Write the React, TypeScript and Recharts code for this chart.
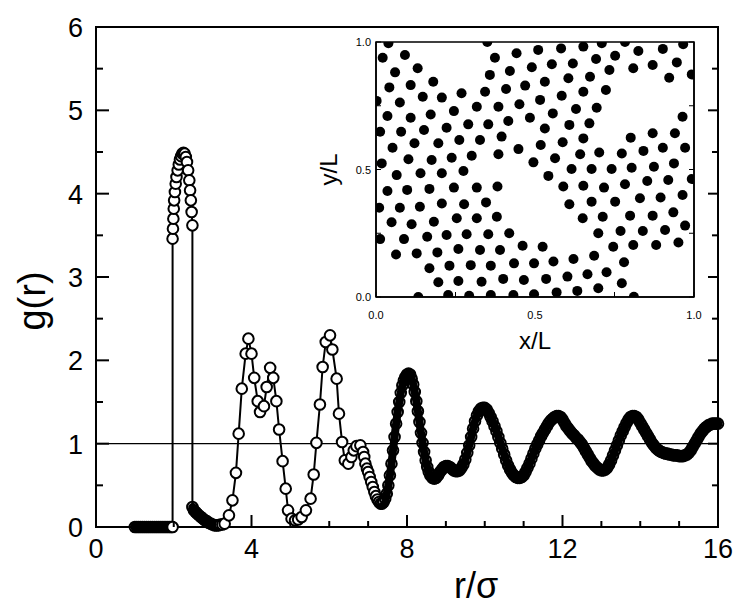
import React from "react";
import {
  ComposedChart,
  Line,
  XAxis,
  YAxis,
  ReferenceLine,
  ReferenceArea,
  ScatterChart,
  Scatter,
} from "recharts";

const FONT = "'Liberation Sans', Arial, Helvetica, sans-serif";

// g(r): hard core, no particles closer than contact
const rCore = [1.0, 1.05, 1.1, 1.15, 1.2, 1.25, 1.3, 1.35, 1.4, 1.45, 1.5, 1.55, 1.6, 1.65, 1.7, 1.75, 1.8, 1.85, 1.9, 1.94, 1.97];
const gCore = [0, 0, 0, 0, 0, 0, 0, 0, 0, 0, 0, 0, 0, 0, 0, 0, 0, 0, 0, 0, 0];

// first (contact) peak
const rPeak = [1.97, 1.98, 1.99, 2.0, 2.01, 2.03, 2.05, 2.07, 2.1, 2.13, 2.16, 2.19, 2.22, 2.25, 2.28, 2.31, 2.34, 2.37, 2.4, 2.42, 2.44, 2.46, 2.48];
const gPeak = [3.46, 3.58, 3.7, 3.82, 3.92, 4.02, 4.12, 4.2, 4.28, 4.35, 4.41, 4.45, 4.48, 4.49, 4.48, 4.44, 4.38, 4.28, 4.16, 4.04, 3.92, 3.78, 3.62];

// tail after the peak
const rTail = [2.48, 2.52, 2.56, 2.6, 2.65, 2.7, 2.75, 2.8, 2.85, 2.9, 2.95, 3.0, 3.05, 3.1, 3.15, 3.2, 3.25, 3.31];
const gTail = [0.24, 0.2, 0.18, 0.16, 0.14, 0.12, 0.1, 0.08, 0.07, 0.05, 0.04, 0.03, 0.02, 0.02, 0.02, 0.03, 0.03, 0.04];

// second and third shells (coarse sampling)
const rShell = [3.42, 3.51, 3.6, 3.67, 3.75, 3.85, 3.92, 4.0, 4.07, 4.16, 4.22, 4.32, 4.39, 4.48, 4.56, 4.64, 4.71, 4.8, 4.88, 4.94, 5.03, 5.12, 5.2, 5.29, 5.4, 5.52, 5.6, 5.67, 5.76, 5.83, 5.91, 6.02, 6.08, 6.19, 6.25, 6.33, 6.4, 6.49, 6.57, 6.63, 6.7, 6.8, 6.87];
const gShell = [0.14, 0.32, 0.65, 1.12, 1.66, 2.08, 2.26, 2.08, 1.79, 1.51, 1.38, 1.45, 1.68, 1.91, 1.79, 1.51, 1.17, 0.79, 0.46, 0.2, 0.1, 0.08, 0.09, 0.12, 0.2, 0.34, 0.63, 1.01, 1.47, 1.92, 2.22, 2.3, 2.13, 1.78, 1.36, 1.02, 0.8, 0.76, 0.84, 0.92, 0.97, 0.98, 0.9];

// long range part (fine sampling)
const rFar = [
  6.9, 6.93, 6.97, 7.0, 7.04, 7.08, 7.12, 7.16, 7.2, 7.24, 7.28, 7.32, 7.36, 7.4, 7.44, 7.48, 7.52, 7.56, 7.6, 7.64,
  7.68, 7.72, 7.76, 7.8, 7.84, 7.88, 7.92, 7.96, 8.0, 8.04, 8.08, 8.12, 8.16, 8.2, 8.24, 8.28, 8.32, 8.36, 8.4, 8.44,
  8.48, 8.52, 8.56, 8.6, 8.65, 8.7, 8.75, 8.8, 8.85, 8.9, 8.95, 9.0, 9.05, 9.1, 9.15, 9.2, 9.25, 9.3, 9.35, 9.4,
  9.45, 9.5, 9.55, 9.6, 9.65, 9.7, 9.75, 9.8, 9.85, 9.9, 9.95, 10.0, 10.05, 10.1, 10.15, 10.2, 10.25, 10.3, 10.35, 10.4,
  10.45, 10.5, 10.55, 10.6, 10.65, 10.7, 10.75, 10.8, 10.85, 10.9, 10.95, 11.0, 11.05, 11.1, 11.15, 11.2, 11.25, 11.3, 11.35, 11.4,
  11.45, 11.5, 11.55, 11.6, 11.65, 11.7, 11.75, 11.8, 11.85, 11.9, 11.95, 12.0, 12.05, 12.1, 12.15, 12.2, 12.25, 12.3, 12.35, 12.4,
  12.45, 12.5, 12.55, 12.6, 12.65, 12.7, 12.75, 12.8, 12.85, 12.9, 12.95, 13.0, 13.05, 13.1, 13.15, 13.2, 13.25, 13.3, 13.35, 13.4,
  13.45, 13.5, 13.55, 13.6, 13.65, 13.7, 13.75, 13.8, 13.85, 13.9, 13.95, 14.0, 14.05, 14.1, 14.15, 14.2, 14.25, 14.3, 14.35, 14.4,
  14.45, 14.5, 14.55, 14.6, 14.65, 14.7, 14.75, 14.8, 14.85, 14.9, 14.95, 15.0, 15.05, 15.1, 15.15, 15.2, 15.25, 15.3, 15.35, 15.4,
  15.45, 15.5, 15.55, 15.6, 15.65, 15.7, 15.75, 15.8, 15.85, 15.9, 15.95, 16.0,
];
const gFar = [
  0.84, 0.76, 0.7, 0.66, 0.6, 0.54, 0.48, 0.42, 0.37, 0.33, 0.3, 0.28, 0.28, 0.3, 0.34, 0.4, 0.5, 0.62, 0.76, 0.92,
  1.08, 1.24, 1.38, 1.5, 1.61, 1.7, 1.76, 1.8, 1.83, 1.84, 1.83, 1.78, 1.71, 1.62, 1.51, 1.39, 1.26, 1.13, 1.01, 0.9,
  0.8, 0.72, 0.66, 0.62, 0.59, 0.58, 0.59, 0.62, 0.66, 0.69, 0.72, 0.73, 0.73, 0.72, 0.7, 0.68, 0.67, 0.67, 0.68, 0.71,
  0.75, 0.81, 0.89, 0.98, 1.08, 1.18, 1.27, 1.34, 1.39, 1.42, 1.43, 1.43, 1.41, 1.37, 1.32, 1.27, 1.21, 1.15, 1.08, 1.01,
  0.94, 0.87, 0.8, 0.74, 0.69, 0.65, 0.62, 0.6, 0.59, 0.59, 0.6, 0.62, 0.66, 0.71, 0.76, 0.82, 0.88, 0.94, 0.99, 1.04,
  1.09, 1.13, 1.17, 1.21, 1.25, 1.28, 1.3, 1.32, 1.33, 1.33, 1.32, 1.29, 1.25, 1.21, 1.18, 1.15, 1.12, 1.1, 1.07, 1.05,
  1.02, 0.99, 0.95, 0.91, 0.87, 0.83, 0.79, 0.76, 0.73, 0.71, 0.69, 0.68, 0.68, 0.69, 0.71, 0.75, 0.8, 0.86, 0.92, 0.98,
  1.04, 1.1, 1.15, 1.2, 1.25, 1.29, 1.32, 1.33, 1.33, 1.32, 1.29, 1.25, 1.21, 1.17, 1.13, 1.09, 1.05, 1.01, 0.98, 0.95,
  0.93, 0.91, 0.9, 0.89, 0.88, 0.88, 0.87, 0.87, 0.86, 0.86, 0.86, 0.85, 0.85, 0.85, 0.86, 0.87, 0.89, 0.92, 0.96, 1.0,
  1.04, 1.08, 1.12, 1.15, 1.18, 1.2, 1.22, 1.23, 1.24, 1.24, 1.24, 1.24,
];

const rTicks = [0, 1, 2, 3, 4, 5, 6, 7, 8, 9, 10, 11, 12, 13, 14, 15, 16];
const gTicks = [0, 0.5, 1, 1.5, 2, 2.5, 3, 3.5, 4, 4.5, 5, 5.5, 6];

// inset: particle snapshot (x/L, y/L)
const insetX = [
  0.039, 0.021, 0.091, 0.06, 0.131, 0.042, 0.109, 0.18, 0.002, 0.075, 0.147, 0.207, 0.269, 0.036, 0.109, 0.172, 0.245, 0.317, 0.013, 0.079,
  0.151, 0.222, 0.29, 0.353, 0.052, 0.121, 0.196, 0.262, 0.327, 0.395, 0.018, 0.102, 0.175, 0.238, 0.301, 0.385, 0.35, 0.374, 0.442, 0.358,
  0.421, 0.49, 0.343, 0.409, 0.469, 0.385, 0.451, 0.416, 0.484, 0.448, 0.495,
  0.51, 0.582, 0.652, 0.71, 0.783, 0.825, 0.902, 0.966, 0.553, 0.619, 0.692, 0.752, 0.531, 0.605, 0.673, 0.734, 0.809, 0.87, 0.946, 0.922,
  0.993, 0.516, 0.584, 0.652, 0.723, 0.556, 0.629, 0.694, 0.531, 0.608, 0.671, 0.964, 0.518, 0.587, 0.652, 0.801, 0.87, 0.94, 0.563, 0.642,
  0.702, 0.773, 0.841, 0.902, 0.972,
  0.065, 0.14, 0.207, 0.275, 0.036, 0.098, 0.168, 0.245, 0.317, 0.382, 0.01, 0.075, 0.138, 0.207, 0.277, 0.346, 0.049, 0.112, 0.182, 0.254,
  0.317, 0.38, 0.013, 0.088, 0.161, 0.222, 0.285, 0.353, 0.419, 0.063, 0.128, 0.193, 0.259, 0.327, 0.39, 0.461, 0.168, 0.231, 0.298, 0.361,
  0.434, 0.497, 0.196, 0.259, 0.332, 0.4, 0.465, 0.133, 0.227, 0.293, 0.361, 0.432, 0.497,
  0.542, 0.615, 0.678, 0.741, 0.804, 0.874, 0.937, 0.993, 0.589, 0.652, 0.717, 0.783, 0.853, 0.919, 0.608, 0.678, 0.752, 0.83, 0.895, 0.964,
  0.65, 0.713, 0.799, 0.87, 0.935, 0.699, 0.769, 0.839, 0.909, 0.972, 0.524, 0.746, 0.809, 0.881, 0.951, 0.558, 0.621, 0.686, 0.78, 0.535,
  0.602, 0.665, 0.725, 0.773, 0.568, 0.633, 0.699, 0.811,
];
const insetY = [
  0.995, 0.938, 0.949, 0.881, 0.897, 0.822, 0.831, 0.844, 0.769, 0.763, 0.785, 0.782, 0.799, 0.71, 0.703, 0.716, 0.729, 0.746, 0.648, 0.648,
  0.655, 0.664, 0.677, 0.677, 0.585, 0.603, 0.603, 0.616, 0.616, 0.629, 0.524, 0.54, 0.537, 0.546, 0.554, 0.56, 1.0, 0.938, 0.956, 0.871,
  0.886, 0.901, 0.805, 0.816, 0.829, 0.746, 0.756, 0.69, 0.703, 0.58, 0.528,
  0.969, 0.975, 0.982, 0.995, 1.0, 0.965, 0.973, 0.991, 0.913, 0.916, 0.933, 0.946, 0.844, 0.858, 0.864, 0.89, 0.897, 0.91, 0.92, 0.86,
  0.873, 0.773, 0.789, 0.805, 0.812, 0.72, 0.737, 0.742, 0.661, 0.675, 0.681, 0.707, 0.596, 0.607, 0.622, 0.625, 0.642, 0.642, 0.544, 0.56,
  0.567, 0.563, 0.573, 0.585, 0.585,
  0.478, 0.485, 0.485, 0.494, 0.416, 0.42, 0.424, 0.429, 0.429, 0.433, 0.35, 0.35, 0.354, 0.367, 0.364, 0.371, 0.293, 0.285, 0.295, 0.309,
  0.309, 0.315, 0.227, 0.227, 0.236, 0.243, 0.246, 0.246, 0.25, 0.167, 0.171, 0.175, 0.188, 0.184, 0.184, 0.201, 0.113, 0.123, 0.125, 0.123,
  0.132, 0.132, 0.058, 0.063, 0.06, 0.071, 0.067, 0.0, 0.008, 0.005, 0.008, 0.008, 0.011,
  0.475, 0.502, 0.502, 0.502, 0.507, 0.511, 0.524, 0.463, 0.433, 0.436, 0.429, 0.442, 0.455, 0.459, 0.364, 0.374, 0.374, 0.387, 0.39, 0.4,
  0.309, 0.315, 0.319, 0.319, 0.332, 0.25, 0.259, 0.259, 0.263, 0.28, 0.197, 0.197, 0.204, 0.204, 0.214, 0.139, 0.149, 0.162, 0.136, 0.071,
  0.08, 0.089, 0.097, 0.054, 0.018, 0.024, 0.034, 0.001,
];
const insetTicks = [0, 0.25, 0.5, 0.75, 1];

// densely sampled stretches read as a solid band of overlapping rings
const row = (r: number, g: number, dense: boolean) => ({ r, g, band: dense ? g : null, dense });
const gData = [
  ...rCore.map((r, i) => row(r, gCore[i], i < rCore.length - 1)),
  ...rPeak.map((r, i) => row(r, gPeak[i], false)),
  ...rTail.map((r, i) => row(r, gTail[i], i < rTail.length - 3)),
  ...rShell.map((r, i) => row(r, gShell[i], false)),
  ...rFar.map((r, i) => row(r, gFar[i], r > 7.25)),
];
const snapshot = insetX.map((x, i) => ({ x, y: insetY[i] }));

function GDot(props: any) {
  const { cx, cy, payload, index } = props;
  if (cx == null || cy == null) return null;
  return (
    <circle
      key={`gd-${index}`}
      cx={cx}
      cy={cy}
      r={5.3}
      fill={payload.dense ? "none" : "#fff"}
      stroke="#000"
      strokeWidth={2}
    />
  );
}

function MainXTick(props: any) {
  const { x, y, payload } = props;
  const v = payload.value;
  const major = v % 4 === 0;
  return (
    <g>
      <line x1={x} x2={x} y1={y} y2={y - (major ? 12 : 6)} stroke="#000" strokeWidth={2} />
      {major && (
        <text x={x} y={y + 31} textAnchor="middle" fontSize={27} fontFamily={FONT} fill="#000">
          {v}
        </text>
      )}
    </g>
  );
}

function MainYTick(props: any) {
  const { x, y, payload } = props;
  const v = payload.value;
  const major = Number.isInteger(v);
  return (
    <g>
      <line x1={x} x2={x + (major ? 13 : 7)} y1={y} y2={y} stroke="#000" strokeWidth={2} />
      {major && (
        <text x={x - 13} y={y + 10} textAnchor="end" fontSize={27} fontFamily={FONT} fill="#000">
          {v}
        </text>
      )}
    </g>
  );
}

function RightYTick(props: any) {
  const { x, y, payload } = props;
  const major = Number.isInteger(payload.value);
  return <line x1={x} x2={x - (major ? 10 : 6)} y1={y} y2={y} stroke="#000" strokeWidth={2} />;
}

function MainXTitle(props: any) {
  const { viewBox } = props;
  const cx = viewBox.x + viewBox.width / 2 + 69;
  return (
    <text x={cx} y={viewBox.y + 71} textAnchor="middle" fontSize={36} fontFamily={FONT} fill="#000">
      r/σ
    </text>
  );
}

function MainYTitle(props: any) {
  const { viewBox } = props;
  const cx = viewBox.x + 32;
  const cy = viewBox.y + viewBox.height / 2 + 24;
  return (
    <text
      x={cx}
      y={cy}
      transform={`rotate(-90 ${cx} ${cy})`}
      textAnchor="middle"
      dominantBaseline="central"
      fontSize={38}
      fontFamily={FONT}
      fill="#000"
    >
      g(r)
    </text>
  );
}

function InsetXTick(props: any) {
  const { x, y, payload } = props;
  const v = payload.value;
  const lab = v === 0 || v === 0.5 || v === 1;
  return (
    <g>
      <line x1={x} x2={x} y1={y} y2={y - 5} stroke="#000" strokeWidth={1} />
      {lab && (
        <text x={x} y={y + 22} textAnchor="middle" fontSize={11} fontFamily={FONT} fill="#000">
          {v.toFixed(1)}
        </text>
      )}
    </g>
  );
}

function InsetYTick(props: any) {
  const { x, y, payload } = props;
  const v = payload.value;
  const lab = v === 0 || v === 0.5 || v === 1;
  return (
    <g>
      <line x1={x} x2={x + 5} y1={y} y2={y} stroke="#000" strokeWidth={1} />
      {lab && (
        <text x={x - 5} y={y + 4} textAnchor="end" fontSize={11} fontFamily={FONT} fill="#000">
          {v.toFixed(1)}
        </text>
      )}
    </g>
  );
}

function InsetRightTick(props: any) {
  const { x, y } = props;
  return <line x1={x} x2={x - 5} y1={y} y2={y} stroke="#000" strokeWidth={1} />;
}

function InsetXTitle(props: any) {
  const { viewBox } = props;
  return (
    <text x={viewBox.x + viewBox.width / 2} y={viewBox.y + 52} textAnchor="middle" fontSize={24} fontFamily={FONT} fill="#000">
      x/L
    </text>
  );
}

function InsetYTitle(props: any) {
  const { viewBox } = props;
  const cx = viewBox.x + 48;
  const cy = viewBox.y + viewBox.height / 2;
  return (
    <text
      x={cx}
      y={cy}
      transform={`rotate(-90 ${cx} ${cy})`}
      textAnchor="middle"
      dominantBaseline="central"
      fontSize={24}
      fontFamily={FONT}
      fill="#000"
    >
      y/L
    </text>
  );
}

const Particle = (p: any) => <circle cx={p.cx} cy={p.cy} r={5} fill="#000" />;

export default function App() {
  return (
    <div style={{ position: "absolute", left: 0, top: 0, width: 736, height: 609, background: "#fff" }}>
      <div style={{ position: "absolute", left: 0, top: 0 }}>
        <ComposedChart width={736} height={609} data={gData} margin={{ top: 27, right: 0, bottom: 0, left: 0 }}>
          <XAxis
            dataKey="r"
            type="number"
            domain={[0, 16]}
            ticks={rTicks}
            interval={0}
            height={82}
            tickSize={0}
            tickMargin={0}
            tickLine={false}
            axisLine={{ stroke: "#000", strokeWidth: 2 }}
            tick={<MainXTick />}
            label={<MainXTitle />}
          />
          <YAxis
            yAxisId="left"
            type="number"
            domain={[0, 6]}
            ticks={gTicks}
            interval={0}
            width={96}
            tickSize={0}
            tickMargin={0}
            tickLine={false}
            axisLine={{ stroke: "#000", strokeWidth: 2 }}
            tick={<MainYTick />}
            label={<MainYTitle />}
          />
          <YAxis
            yAxisId="right"
            orientation="right"
            type="number"
            domain={[0, 6]}
            ticks={gTicks}
            interval={0}
            allowDataOverflow
            width={18}
            tickSize={0}
            tickMargin={0}
            tickLine={false}
            axisLine={{ stroke: "#000", strokeWidth: 2 }}
            tick={<RightYTick />}
          />
          <ReferenceArea yAxisId="left" x1={0} x2={16} y1={0} y2={6} fill="none" stroke="#000" strokeWidth={2} />
          <ReferenceLine yAxisId="left" y={1} stroke="#000" strokeWidth={1.2} />
          <Line
            yAxisId="left"
            dataKey="band"
            type="linear"
            stroke="#000"
            strokeWidth={8}
            strokeLinecap="round"
            strokeLinejoin="round"
            connectNulls={false}
            dot={false}
            activeDot={false}
            isAnimationActive={false}
          />
          <Line
            yAxisId="left"
            dataKey="g"
            type="linear"
            stroke="#000"
            strokeWidth={2}
            dot={GDot}
            activeDot={false}
            isAnimationActive={false}
          />
        </ComposedChart>
      </div>
      <div style={{ position: "absolute", left: 280, top: 30 }}>
        <ScatterChart width={430} height={330} margin={{ top: 12, right: 0, bottom: 0, left: 0 }}>
          <XAxis
            dataKey="x"
            type="number"
            domain={[0, 1]}
            ticks={insetTicks}
            interval={0}
            allowDataOverflow
            height={63}
            tickSize={0}
            tickMargin={0}
            tickLine={false}
            axisLine={{ stroke: "#000", strokeWidth: 1.5 }}
            tick={<InsetXTick />}
            label={<InsetXTitle />}
          />
          <YAxis
            dataKey="y"
            type="number"
            domain={[0, 1]}
            ticks={insetTicks}
            interval={0}
            allowDataOverflow
            width={96}
            tickSize={0}
            tickMargin={0}
            tickLine={false}
            axisLine={{ stroke: "#000", strokeWidth: 1.5 }}
            tick={<InsetYTick />}
            label={<InsetYTitle />}
          />
          <YAxis
            yAxisId="right"
            orientation="right"
            type="number"
            domain={[0, 1]}
            ticks={insetTicks}
            interval={0}
            allowDataOverflow
            width={16}
            tickSize={0}
            tickMargin={0}
            tickLine={false}
            axisLine={{ stroke: "#000", strokeWidth: 1.5 }}
            tick={<InsetRightTick />}
          />
          <ReferenceArea x1={0} x2={1} y1={0} y2={1} fill="none" stroke="#000" strokeWidth={1.5} />
          <Scatter data={snapshot} dataKey="y" shape={Particle} isAnimationActive={false} />
        </ScatterChart>
      </div>
    </div>
  );
}
